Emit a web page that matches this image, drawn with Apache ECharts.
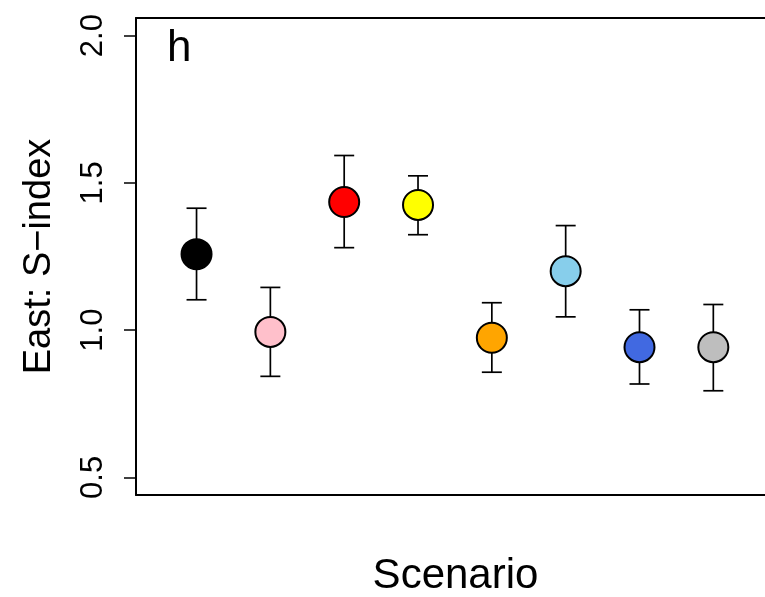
<!DOCTYPE html>
<html>
<head>
<meta charset="utf-8">
<script src="https://cdn.jsdelivr.net/npm/echarts@6/dist/echarts.min.js"></script>
<style>html,body{margin:0;padding:0;background:#fff;}#c{width:765px;height:597px;}</style>
</head>
<body>
<div id="c"></div>
<script>
const scenarios = [1, 2, 3, 4, 5, 6, 7, 8];
const means = [1.258, 0.994, 1.435, 1.425, 0.974, 1.200, 0.942, 0.942];
const upper = [1.414, 1.145, 1.593, 1.524, 1.093, 1.355, 1.069, 1.087];
const lower = [1.103, 0.843, 1.280, 1.324, 0.857, 1.045, 0.817, 0.794];
const colors = ['#000000', '#FFC0CB', '#FF0000', '#FFFF00', '#FFA500', '#87CEEB', '#4169E1', '#BEBEBE'];
const yTicks = [0.5, 1.0, 1.5, 2.0];
const panelLabel = 'h';
const yName = 'East: S\u2212index';
const xName = 'Scenario';

const font = 'Liberation Sans, Arial, Helvetica, sans-serif';
const chart = echarts.init(document.getElementById('c'), null, {renderer: 'canvas'});

const pointData = scenarios.map((s, i) => ({
  value: [s, means[i]],
  itemStyle: {color: colors[i]}
}));
const errData = scenarios.map((s, i) => [s, lower[i], upper[i]]);

const frameLine = {show: true, lineStyle: {color: '#000', width: 2}};

chart.setOption({
  animation: false,
  backgroundColor: '#fff',
  title: {
    text: panelLabel, left: 162, top: 22,
    textStyle: {fontFamily: font, fontSize: 44, fontWeight: 'normal', color: '#000'}
  },
  grid: {
    left: 136, top: 18, right: 0, bottom: 102,
    show: false, containLabel: false, outerBoundsMode: 'none'
  },
  xAxis: [
    {
      type: 'value', min: 0.18, max: 8.70, position: 'bottom',
      name: xName, nameLocation: 'middle', nameGap: 60,
      nameTextStyle: {fontFamily: font, fontSize: 42, color: '#000', padding: [0, 0, 0, 10]},
      axisLine: frameLine, axisTick: {show: false}, axisLabel: {show: false},
      splitLine: {show: false}
    },
    {
      type: 'value', min: 0.18, max: 8.70, position: 'top',
      axisLine: frameLine, axisTick: {show: false}, axisLabel: {show: false},
      splitLine: {show: false}
    }
  ],
  yAxis: {
    type: 'value', min: 0.44, max: 2.06,
    name: yName, nameLocation: 'middle', nameGap: 77, nameRotate: 90,
    nameTextStyle: {fontFamily: font, fontSize: 38, color: '#000'},
    axisLine: {show: true, onZero: false, lineStyle: {color: '#000', width: 2}},
    axisTick: {show: true, inside: false, length: 12, lineStyle: {color: '#000', width: 1.5}, customValues: yTicks},
    axisLabel: {
      show: true, rotate: 90, margin: 27, customValues: yTicks,
      fontFamily: font, fontSize: 31, color: '#000',
      formatter: v => Number(v).toFixed(1)
    },
    splitLine: {show: false}
  },
  series: [
    {
      type: 'custom',
      data: errData,
      z: 2,
      renderItem: function (params, api) {
        const x = api.value(0);
        const lo = api.coord([x, api.value(1)]);
        const hi = api.coord([x, api.value(2)]);
        const hw = 10;
        const st = {stroke: '#000', lineWidth: 1.7};
        return {
          type: 'group',
          children: [
            {type: 'line', shape: {x1: lo[0], y1: lo[1], x2: hi[0], y2: hi[1]}, style: st},
            {type: 'line', shape: {x1: lo[0] - hw, y1: lo[1], x2: lo[0] + hw, y2: lo[1]}, style: st},
            {type: 'line', shape: {x1: hi[0] - hw, y1: hi[1], x2: hi[0] + hw, y2: hi[1]}, style: st}
          ]
        };
      }
    },
    {
      type: 'scatter',
      data: pointData,
      z: 3,
      symbol: 'circle',
      symbolSize: 30,
      itemStyle: {borderColor: '#000', borderWidth: 2, opacity: 1}
    }
  ]
});
</script>
</body>
</html>
